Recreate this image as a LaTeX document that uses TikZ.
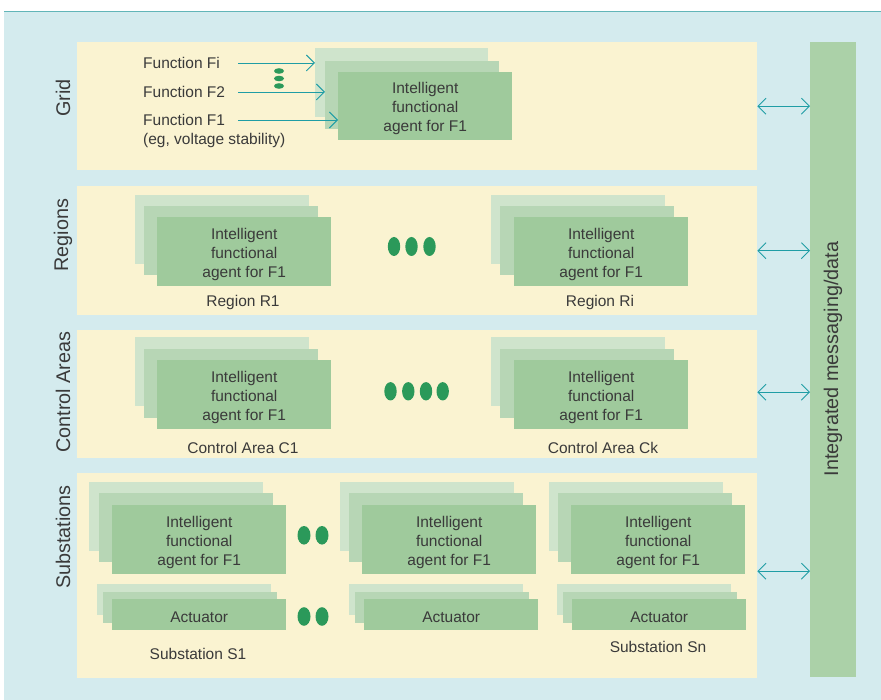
\documentclass[tikz,border=0pt]{standalone}
\usepackage{fontspec}
\setmainfont{Liberation Sans}
\usetikzlibrary{arrows.meta,calc}
\definecolor{bgblue}{HTML}{D4EBEE}
\definecolor{cream}{HTML}{FAF3D1}
\definecolor{gA}{HTML}{CFE4CC}
\definecolor{gB}{HTML}{B7D6B5}
\definecolor{gC}{HTML}{9FCA9C}
\definecolor{barg}{HTML}{ABD1A8}
\definecolor{dotg}{HTML}{2B995A}
\definecolor{teal}{HTML}{1F9DA5}
\definecolor{txt}{HTML}{3A3A3A}
\definecolor{topline}{HTML}{62B5B8}
\tikzset{
  band/.style={fill=cream, inner sep=0pt, anchor=north west},
  agentA/.style={fill=gA, inner sep=0pt, minimum width=174pt, minimum height=69pt, anchor=north west},
  agentB/.style={fill=gB, inner sep=0pt, minimum width=174pt, minimum height=69pt, anchor=north west},
  agentC/.style={fill=gC, inner sep=0pt, minimum width=174pt, minimum height=69pt, anchor=north west,
     text=txt, font=\fontsize{15.5}{19}\selectfont, align=center},
  actA/.style={fill=gA, inner sep=0pt, minimum width=174pt, minimum height=31pt, anchor=north west},
  actB/.style={fill=gB, inner sep=0pt, minimum width=174pt, minimum height=31pt, anchor=north west},
  actC/.style={fill=gC, inner sep=0pt, minimum width=174pt, minimum height=31pt, anchor=north west,
     text=txt, font=\fontsize{15.5}{19}\selectfont},
  lbl/.style={text=txt, font=\fontsize{15.5}{19}\selectfont, inner sep=0pt},
  side/.style={text=txt, font=\fontsize{19.8}{22}\selectfont, rotate=90, inner sep=0pt},
  conn/.style={draw=teal, line width=0.9pt, >={Straight Barb[length=8pt,width=16pt]}},
  dot/.style={fill=dotg}
}
\newcommand{\agenttxt}{\rule{0pt}{16pt}Intelligent\\functional\\agent for F1}
\newcommand{\acttxt}{\rule{0pt}{15pt}Actuator}
\begin{document}
\begin{tikzpicture}[x=1pt,y=-1pt]
\useasboundingbox (0,0) rectangle (881,700);
\fill[white] (0,0) rectangle (881,700);
\fill[bgblue] (4,12) rectangle (881,700);
\draw[topline, line width=1.5pt] (4,11.5) -- (881,11.5);

% bands
\node[band, minimum width=680pt, minimum height=128pt] (grid) at (77,42) {};
\node[band, minimum width=680pt, minimum height=129pt] (reg) at (77,186) {};
\node[band, minimum width=680pt, minimum height=128pt] (ctl) at (77,330) {};
\node[band, minimum width=680pt, minimum height=205pt] (sub) at (77,473) {};

% integrated bar
\node[fill=barg, inner sep=0pt, minimum width=46pt, minimum height=635pt, anchor=north west] (bar) at (810,42) {};
\node[side] (bartxt) at (833,359) {Integrated messaging/data};

% side labels
\node[side] (lgrid) at (63,98) {Grid};
\node[side] (lreg) at (63,235) {Regions};
\node[side] (lctl) at (63,392) {Control Areas};
\node[side] (lsub) at (63,537) {Substations};

% grid row
\node[agentA, minimum width=173pt] (gA) at (315,48) {};
\node[agentB, minimum height=68pt] (gB) at (325,61) {};
\node[agentC, minimum height=68pt] (gC) at (338,72) {\agenttxt};
\node[lbl, anchor=west] (fi) at (143,63) {Function Fi};
\node[lbl, anchor=west] (f2) at (143,91.5) {Function F2};
\node[lbl, anchor=west] (f1) at (143,120) {Function F1};
\node[lbl, anchor=west] (feg) at (143,140) {(eg, voltage stability)};
\coordinate (fs) at (238,0);
\draw[conn, ->] (fs |- 0,63) -- (gA.west |- 0,63);
\draw[conn, ->] (fs |- 0,92) -- (gB.west |- 0,92);
\draw[conn, ->] (fs |- 0,120) -- (gC.west |- 0,120);
\fill[dot] (279,71) ellipse (5 and 2.8);
\fill[dot] (279,78.5) ellipse (5 and 2.8);
\fill[dot] (279,86) ellipse (5 and 2.8);

% regions row
\node[agentA] (r1A) at (135,195) {};
\node[agentB] (r1B) at (144,206) {};
\node[agentC] (r1C) at (157,217) {\agenttxt};
\node[lbl] (r1L) at (243,302.5) {Region R1};
\node[agentA] (r2A) at (491,195) {};
\node[agentB] (r2B) at (500,206) {};
\node[agentC] (r2C) at (514,217) {\agenttxt};
\node[lbl] (r2L) at (600,302.5) {Region Ri};
\foreach \x in {394,411.5,429.5} \fill[dot] (\x,246.5) ellipse (6.2 and 9.5);

% control areas row
\node[agentA] (c1A) at (135,337) {};
\node[agentB] (c1B) at (144,349) {};
\node[agentC] (c1C) at (157,360) {\agenttxt};
\node[lbl] (c1L) at (243,447.5) {Control Area C1};
\node[agentA] (c2A) at (491,337) {};
\node[agentB] (c2B) at (500,349) {};
\node[agentC] (c2C) at (514,360) {\agenttxt};
\node[lbl] (c2L) at (603,447.5) {Control Area Ck};
\foreach \x in {390.5,408.3,426,442.7} \fill[dot] (\x,391.3) ellipse (6.2 and 9.2);

% substations row
\node[agentA] (s1A) at (89,482) {};
\node[agentB] (s1B) at (99,493) {};
\node[agentC] (s1C) at (112,505) {\agenttxt};
\node[actA] (a1A) at (97,584) {};
\node[actB] (a1B) at (103,592) {};
\node[actC] (a1C) at (112,599) {\acttxt};
\node[lbl] (s1L) at (198,653.5) {Substation S1};

\node[agentA] (s2A) at (340,482) {};
\node[agentB] (s2B) at (349,493) {};
\node[agentC] (s2C) at (362,505) {\agenttxt};
\node[actA] (a2A) at (349,584) {};
\node[actB] (a2B) at (355,592) {};
\node[actC] (a2C) at (364,599) {\acttxt};

\node[agentA] (s3A) at (549,482) {};
\node[agentB] (s3B) at (558,493) {};
\node[agentC] (s3C) at (571,505) {\agenttxt};
\node[actA] (a3A) at (557,584) {};
\node[actB] (a3B) at (563,592) {};
\node[actC] (a3C) at (572,599) {\acttxt};
\node[lbl] (s3L) at (658,646.5) {Substation Sn};

\foreach \x in {304,322} {
  \fill[dot] (\x,535.3) ellipse (6.5 and 9.3);
  \fill[dot] (\x,616.5) ellipse (6.5 and 9.3);
}

% double arrows to integrated bar
\coordinate (cy) at ([yshift=2pt]ctl.east);
\coordinate (sy) at ([yshift=4.5pt]sub.east);
\draw[conn, <->] (grid.east) -- (bar.west |- grid.east);
\draw[conn, <->] (reg.east) -- (bar.west |- reg.east);
\draw[conn, <->] (cy) -- (bar.west |- cy);
\draw[conn, <->] (sy) -- (bar.west |- sy);
\end{tikzpicture}
\end{document}
